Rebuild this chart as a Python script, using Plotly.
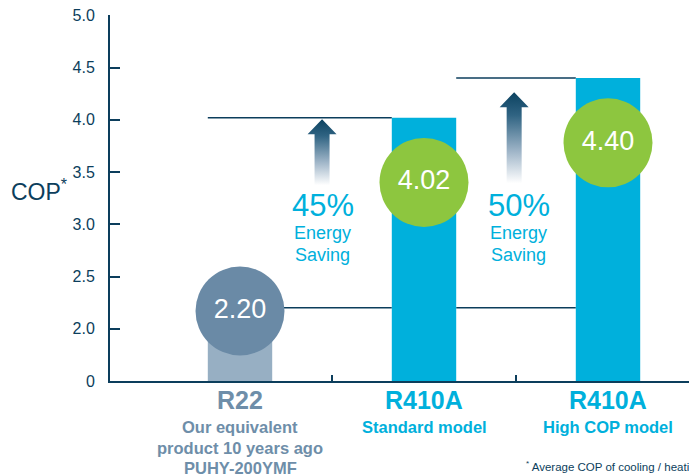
import plotly.graph_objects as go

# ---- data ----
refrigerants = ["R22", "R410A", "R410A"]
descriptions = [
    ["Our equivalent", "product 10 years ago", "PUHY-200YMF"],
    ["Standard model"],
    ["High COP model"],
]
cop = [2.20, 4.02, 4.40]
savings = ["45%", "50%"]
y_tick_values = [0, 2.0, 2.5, 3.0, 3.5, 4.0, 4.5, 5.0]
y_tick_text = ["0", "2.0", "2.5", "3.0", "3.5", "4.0", "4.5", "5.0"]
footnote = "Average COP of cooling / heating"

# ---- styles ----
NAVY = "#0c3e5c"
GREYBLUE = "#6e8ea9"
CYAN = "#00b0dc"
GREEN = "#8dc63f"
BAR_COLORS = ["#97afc3", CYAN, CYAN]
CIRCLE_COLORS = ["#6a8aa6", GREEN, GREEN]
CAT_COLORS = [GREYBLUE, CYAN, CYAN]
FONT = "Liberation Sans, Arial, sans-serif"
BAR_W = 0.35

# page body has an 8px default margin -> compensate
OFF = 8
W, H = 697 - OFF, 474 - OFF
PL, PR, PT, PB = 110, 697, 15, 381      # plot area in screen pixels
ML, MR, MT, MB = PL - OFF, 0, PT - OFF, 474 - PB
PX_X = 1 / 184.0                        # category units per pixel
PX_Y = 3.5 / (PB - PT)                  # display units per pixel


def px(xpix):
    return (xpix - PL) / (PR - PL)


def py(ypix):
    return (PB - ypix) / (PB - PT)


def disp(v):
    """Broken axis: 0..2.0 compressed into one half step."""
    return v - 1.5 if v >= 2.0 else v * 0.25


x = list(range(len(cop)))
ydisp = [disp(v) for v in cop]

fig = go.Figure()

# bars
fig.add_trace(go.Bar(x=x, y=ydisp, width=BAR_W, marker=dict(color=BAR_COLORS, line=dict(width=0)),
                     hoverinfo="skip"))

# reference lines (below traces)
line_style = dict(color=NAVY, width=1.5)
shapes = [
    dict(type="line", xref="x", yref="y", x0=0 - BAR_W / 2, x1=1 - BAR_W / 2,
         y0=ydisp[1], y1=ydisp[1], line=line_style, layer="below"),
    dict(type="line", xref="x", yref="y", x0=1 + BAR_W / 2, x1=2 - BAR_W / 2,
         y0=ydisp[2], y1=ydisp[2], line=line_style, layer="below"),
    dict(type="line", xref="x", yref="y", x0=0, x1=1 - BAR_W / 2,
         y0=ydisp[0], y1=ydisp[0], line=line_style, layer="below"),
    dict(type="line", xref="x", yref="y", x0=1 + BAR_W / 2, x1=2 - BAR_W / 2,
         y0=ydisp[0], y1=ydisp[0], line=line_style, layer="below"),
]


# gradient arrows
def arrow(xc, tip, bottom):
    sh = 7.5 * PX_X
    hh = 14.5 * PX_X
    head = 15 * PX_Y
    xs = [xc - sh, xc - sh, xc - hh, xc, xc + hh, xc + sh, xc + sh, xc - sh]
    ys = [bottom, tip - head, tip - head, tip, tip - head, tip - head, bottom, bottom]
    return go.Scatter(x=xs, y=ys, mode="lines", fill="toself", line=dict(width=0),
                      fillgradient=dict(type="vertical",
                                        colorscale=[[0, "#ffffff"], [0.35, "#9fb5c8"],
                                                    [0.75, "#2f6382"], [1, "#0c4260"]]),
                      hoverinfo="skip")


fig.add_trace(arrow(0.446, 2.505, 1.874))
fig.add_trace(arrow(1.49, 2.764, 1.893))

# value circles
drops = [0.03, 0.62, 0.62]
fig.add_trace(go.Scatter(
    x=x, y=[d - k for d, k in zip(ydisp, drops)], mode="markers+text",
    marker=dict(size=89, color=CIRCLE_COLORS, line=dict(width=0)),
    text=[f"{v:.2f}" for v in cop], textposition="middle center",
    textfont=dict(family=FONT, size=27, color="white"), hoverinfo="skip"))

annotations = []
# savings text
for xs, s in zip([0.451, 1.516], savings):
    annotations.append(dict(x=xs, y=(PB - 205) * PX_Y, xref="x", yref="y", text=s, showarrow=False,
                            font=dict(family=FONT, size=31, color=CYAN), yanchor="middle"))
    for yy, t in zip([233, 255], ["Energy", "Saving"]):
        annotations.append(dict(x=xs, y=(PB - yy) * PX_Y, xref="x", yref="y", text=t, showarrow=False,
                                font=dict(family=FONT, size=18, color=CYAN), yanchor="middle"))

# category labels
for i, (r, desc) in enumerate(zip(refrigerants, descriptions)):
    annotations.append(dict(x=i, y=py(400), xref="x", yref="paper", yanchor="middle",
                            text=f"<b>{r}</b>", showarrow=False,
                            font=dict(family=FONT, size=25, color=CAT_COLORS[i])))
    for j, line in enumerate(desc):
        annotations.append(dict(x=i, y=py(427 + j * 20.5), xref="x", yref="paper", yanchor="middle",
                                text=f"<b>{line}</b>", showarrow=False,
                                font=dict(family=FONT, size=16.5, color=CAT_COLORS[i])))

# COP axis label
annotations.append(dict(x=px(9), y=py(190), xref="paper", yref="paper", xanchor="left",
                        yanchor="middle", text="COP<sup>*</sup>", showarrow=False,
                        font=dict(family=FONT, size=23, color=NAVY)))
# footnote
annotations.append(dict(x=px(524), y=py(466), xref="paper", yref="paper", xanchor="left",
                        yanchor="middle", text="<sup>*</sup> " + footnote,
                        showarrow=False, font=dict(family=FONT, size=11.5, color=NAVY)))

fig.update_layout(
    width=W, height=H,
    margin=dict(l=ML, r=MR, t=MT, b=MB, pad=0),
    plot_bgcolor="white", paper_bgcolor="white",
    showlegend=False,
    shapes=shapes,
    annotations=annotations,
    xaxis=dict(range=[-130 / 184, 457 / 184], showline=True, linewidth=2, linecolor=NAVY,
               tickvals=[0.5, 1.5], ticks="inside", ticklen=6, tickwidth=1.5, tickcolor=NAVY,
               showticklabels=False, showgrid=False, zeroline=False, fixedrange=True),
    yaxis=dict(range=[0, 3.503], showline=True, linewidth=2, linecolor=NAVY,
               tickvals=[disp(v) for v in y_tick_values], ticktext=y_tick_text,
               ticks="inside", ticklen=10, tickwidth=2, tickcolor=NAVY,
               tickfont=dict(family=FONT, size=16, color=NAVY), ticklabelstandoff=10,
               ticklabeloverflow="allow",
               showgrid=False, zeroline=False, fixedrange=True),
)

fig.write_html("out.html")
